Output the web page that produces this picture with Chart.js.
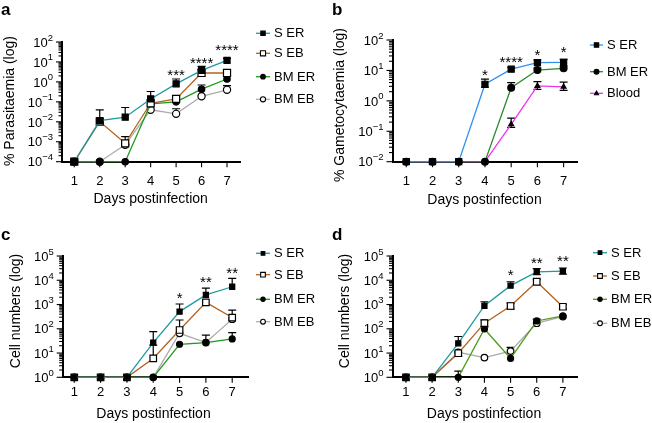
<!DOCTYPE html>
<html><head><meta charset="utf-8">
<script src="https://cdn.jsdelivr.net/npm/chart.js@4/dist/chart.umd.min.js"></script>
<style>
html,body{margin:0;padding:0;background:#fff;}
#wrap{position:relative;width:652px;height:423px;overflow:hidden;background:#fff}
canvas{position:absolute;left:0;top:0}
</style></head><body>
<div id="wrap">
<canvas id="ca" width="652" height="423"></canvas>
<canvas id="cb" width="652" height="423"></canvas>
<canvas id="cc" width="652" height="423"></canvas>
<canvas id="cd" width="652" height="423"></canvas>
</div>
<script>
// ---------- DATA ----------
const days = [1, 2, 3, 4, 5, 6, 7];

// Panel a: % Parasitaemia
const aSER     = [1e-4, 0.0115, 0.017, 0.14, 0.8, 3.8, 12];
const aSERhi   = [null, 0.04, 0.052, 0.33, 1.4, 6, 15];
const aSEB     = [1e-4, 0.0102, 0.00083, 0.085, 0.14, 2.8, 2.8];
const aSEBhi   = [null, null, 0.0018, null, 0.2, 4.2, 3.8];
const aBMER    = [1e-4, 1e-4, 1e-4, 0.08, 0.1, 0.43, 1.4];
const aBMERhi  = [null, null, null, null, null, 0.7, null];
const aBMEB    = [1e-4, 1e-4, 0.0007, 0.04, 0.025, 0.19, 0.4];
const aBMEBhi  = [null, null, null, null, 0.045, null, 0.65];
const aStarDays = [5, 6, 7];
const aStars    = ['***', '****', '****'];

// Panel b: % Gametocytaemia
const bSER     = [0.01, 0.01, 0.01, 3.5, 11, 18, 18.5];
const bSERhi   = [null, null, null, 5.2, 12.5, 22, 23];
const bSERlo   = [null, null, null, 2.8, null, null, null];
const bBMER    = [0.01, 0.01, 0.01, 0.01, 2.7, 10.3, 11.7];
const bBMERhi  = [null, null, null, null, 4, 12, 14];
const bBlood   = [0.01, 0.01, 0.01, 0.01, 0.17, 3.1, 2.9];
const bBloodhi = [null, null, null, null, 0.27, 4.3, 4.1];
const bBloodlo = [null, null, null, null, 0.135, 2.4, 2.2];
const bStarDays = [4, 5, 6, 7];
const bStars    = ['*', '****', '*', '*'];

// Panel c: Cell numbers
const cSER     = [1, 1, 1, 27, 510, 2500, 5400];
const cSERhi   = [null, null, null, 76, 1050, 4700, 12000];
const cSEB     = [1, 1, 1, 6, 89, 1230, 290];
const cSEBhi   = [null, null, null, 21, 230, null, 590];
const cBMER    = [1, 1, 1, 1, 23, 27, 38];
const cBMERhi  = [null, null, null, null, null, null, 70];
const cBMEB    = [1, 1, 1, 1, 65, 27, 250];
const cBMEBhi  = [null, null, null, null, null, 55, null];
const cStarDays = [5, 6, 7];
const cStars    = ['*', '**', '**'];

// Panel d: Cell numbers
const dSER     = [1, 1, 25, 890, 6000, 22000, 24000];
const dSERhi   = [null, null, 48, 1300, 8700, 30000, 32000];
const dSERlo   = [null, null, null, null, null, 17000, 18000];
const dSEB     = [1, 1, 9.8, 170, 870, 8700, 810];
const dSEBhi   = [null, null, null, 230, 1150, 11000, 1000];
const dSEBlo   = [null, null, 7.5, 120, 650, 6500, 650];
const dBMER    = [1, 1, 1, 98, 6, 210, 340];
const dBMERhi  = [null, null, 1.8, null, null, 250, null];
const dBMEB    = [1, 1, 10.7, 6.5, 12, 170, 320];
const dBMEBhi  = [null, null, null, null, 17, null, null];
const dStarDays = [5, 6, 7];
const dStars    = ['*', '**', '**'];

// ---------- STYLES ----------
const FONT = "'Liberation Sans', Arial, Helvetica, sans-serif";
const TEAL = '#1f9aa0', BROWN = '#b4621f', GREEN = '#1a9a1a', GRAY = '#ababab';
const BLUE = '#2f8ff5', GREEN_B = '#2a8a2a', MAGENTA = '#f032f0', GREEN_D = '#4f9a1c';

function mk(label, vals, hi, lo, color, shape, filled, r) {
  return {
    label, data: days.map((d, i) => ({x: d, y: vals[i]})),
    errHi: hi, errLo: lo,
    borderColor: color, backgroundColor: color, borderWidth: 1.3,
    pointStyle: shape, pointRadius: r, pointHoverRadius: r,
    pointBackgroundColor: filled ? '#000' : '#fff',
    pointBorderColor: '#000', pointBorderWidth: 1.2,
    tension: 0, clip: false, fill: false,
    mShape: shape, mFilled: filled, mR: r
  };
}

const panels = [
  { id: 'ca', letter: 'a', letterXY: [1, 15], area: [62, 42, 240, 161.7], xr: [0.517, 7.51], yr: [1e-4, 100],
    yTitle: '% Parasitaemia (log)', yTitleXY: [10, 101], xTitleXY: [150.7, 199], xTickY: 181,
    legend: {x0: 256, x1: 270, tx: 274, ys: [33.3, 53.3, 76.7, 99.3]},
    starDays: aStarDays, stars: aStars, starYs: [71.7, 59, 46],
    ds: [mk('S ER', aSER, aSERhi, null, TEAL, 'rect', true, 4.3),
         mk('S EB', aSEB, aSEBhi, null, BROWN, 'rect', false, 5),
         mk('BM ER', aBMER, aBMERhi, null, GREEN, 'circle', true, 3.2),
         mk('BM EB', aBMEB, aBMEBhi, null, GRAY, 'circle', false, 3.6)] },
  { id: 'cb', letter: 'b', letterXY: [332, 15], area: [392.5, 40, 577, 161.7], xr: [0.475, 7.51], yr: [0.01, 100],
    yTitle: '% Gametocytaemia (log)', yTitleXY: [340, 105], xTitleXY: [484.5, 200], xTickY: 181.5,
    legend: {x0: 590, x1: 603, tx: 607, ys: [45, 71.7, 93.3]},
    starDays: bStarDays, stars: bStars, starYs: [71.7, 58, 51.7, 48],
    ds: [mk('S ER', bSER, bSERhi, bSERlo, BLUE, 'rect', true, 4.3),
         mk('BM ER', bBMER, bBMERhi, null, GREEN_B, 'circle', true, 3.4),
         mk('Blood', bBlood, bBloodhi, bBloodlo, MAGENTA, 'triangle', true, 2.8)] },
  { id: 'cc', letter: 'c', letterXY: [1, 240], area: [62.7, 256, 248, 377.3], xr: [0.56, 7.6], yr: [1, 1e5],
    yTitle: 'Cell numbers (log)', yTitleXY: [16, 311], xTitleXY: [153.5, 414], xTickY: 392.5,
    legend: {x0: 256, x1: 270, tx: 274, ys: [253.3, 274.7, 299.3, 321.7]},
    starDays: cStarDays, stars: cStars, starYs: [294, 278, 269],
    ds: [mk('S ER', cSER, cSERhi, null, TEAL, 'rect', true, 3.6),
         mk('S EB', cSEB, cSEBhi, null, BROWN, 'rect', false, 4.6),
         mk('BM ER', cBMER, cBMERhi, null, GREEN, 'circle', true, 3),
         mk('BM EB', cBMEB, cBMEBhi, null, GRAY, 'circle', false, 3.3)] },
  { id: 'cd', letter: 'd', letterXY: [332, 240], area: [392.5, 256, 577, 377.3], xr: [0.485, 7.54], yr: [1, 1e5],
    yTitle: 'Cell numbers (log)', yTitleXY: [345, 311], xTitleXY: [484, 414], xTickY: 392.5,
    legend: {x0: 593, x1: 607, tx: 611, ys: [252.7, 276, 299.3, 323.3]},
    starDays: dStarDays, stars: dStars, starYs: [271.7, 259, 257.7],
    ds: [mk('S ER', dSER, dSERhi, dSERlo, TEAL, 'rect', true, 3.6),
         mk('S EB', dSEB, dSEBhi, dSEBlo, BROWN, 'rect', false, 4.6),
         mk('BM ER', dBMER, dBMERhi, null, GREEN_D, 'circle', true, 3),
         mk('BM EB', dBMEB, dBMEBhi, null, GRAY, 'circle', false, 3.3)] }
];

function drawMarker(ctx, shape, filled, r, x, y) {
  ctx.save();
  ctx.fillStyle = filled ? '#000' : '#fff';
  ctx.strokeStyle = '#000'; ctx.lineWidth = 1.1;
  ctx.beginPath();
  if (shape === 'rect') { const s = r * Math.SQRT1_2; ctx.rect(x - s, y - s, 2 * s, 2 * s); }
  else if (shape === 'circle') { ctx.arc(x, y, r, 0, Math.PI * 2); }
  else if (shape === 'triangle') {
    ctx.moveTo(x, y - r * 1.1); ctx.lineTo(x + r, y + r * 0.7); ctx.lineTo(x - r, y + r * 0.7); ctx.closePath();
  }
  ctx.fill(); ctx.stroke();
  ctx.restore();
}

const supMap = {'-': '\u2212'};
function expStr(e) { return String(e).split('').map(c => supMap[c] || c).join(''); }

const errorBars = {
  id: 'errorBars',
  beforeDatasetsDraw(chart) {
    const {ctx, scales: {x, y}} = chart;
    ctx.save(); ctx.strokeStyle = '#000'; ctx.lineWidth = 1.2;
    chart.data.datasets.forEach(ds => {
      ds.data.forEach((pt, i) => {
        const px = x.getPixelForValue(pt.x), py = y.getPixelForValue(pt.y);
        [ds.errHi && ds.errHi[i], ds.errLo && ds.errLo[i]].forEach(v => {
          if (v == null) return;
          const ey = y.getPixelForValue(v);
          ctx.beginPath(); ctx.moveTo(px, py); ctx.lineTo(px, ey);
          ctx.moveTo(px - 4, ey); ctx.lineTo(px + 4, ey); ctx.stroke();
        });
      });
    });
    ctx.restore();
  }
};

const decor = {
  id: 'decor',
  beforeDatasetsDraw(chart, args, opts) {
    const P = opts.panel;
    const {ctx, scales: {x, y}, chartArea: ca} = chart;
    ctx.save();
    ctx.strokeStyle = '#000'; ctx.lineWidth = 1.1; ctx.fillStyle = '#000';
    const e0 = Math.round(Math.log10(P.yr[0])), e1 = Math.round(Math.log10(P.yr[1]));
    const L = ca.left;
    for (let e = e0; e <= e1; e++) {
      const v = Math.pow(10, e), py = y.getPixelForValue(v);
      ctx.beginPath(); ctx.moveTo(L - 6, py); ctx.lineTo(L, py); ctx.stroke();
      if (e < e1) for (let m = 2; m <= 9; m++) {
        const pm = y.getPixelForValue(m * v);
        ctx.beginPath(); ctx.moveTo(L - 3.5, pm); ctx.lineTo(L, pm); ctx.stroke();
      }
      const base = '10', sup = expStr(e);
      ctx.font = '13px ' + FONT; const wb = ctx.measureText(base).width;
      ctx.font = '9.5px ' + FONT; const ws = ctx.measureText(sup).width;
      const right = L - 9;
      ctx.textAlign = 'left'; ctx.textBaseline = 'alphabetic';
      ctx.font = '13px ' + FONT; ctx.fillText(base, right - ws - wb, py + 4.7);
      ctx.font = '9.5px ' + FONT; ctx.fillText(sup, right - ws, py - 1.5);
    }
    ctx.font = '13px ' + FONT; ctx.textAlign = 'center'; ctx.textBaseline = 'middle';
    days.forEach(d => {
      const px = x.getPixelForValue(d);
      ctx.beginPath(); ctx.moveTo(px, ca.bottom); ctx.lineTo(px, ca.bottom + 5.5); ctx.stroke();
      ctx.fillText(String(d), px, P.xTickY);
    });
    ctx.restore();
  },
  afterDraw(chart, args, opts) {
    const P = opts.panel;
    const {ctx, scales: {x}} = chart;
    ctx.save(); ctx.fillStyle = '#000';
    ctx.font = 'bold 17px ' + FONT; ctx.textAlign = 'left'; ctx.textBaseline = 'alphabetic';
    ctx.fillText(P.letter, P.letterXY[0], P.letterXY[1]);
    ctx.font = '14px ' + FONT; ctx.textAlign = 'center'; ctx.textBaseline = 'middle';
    ctx.fillText('Days postinfection', P.xTitleXY[0], P.xTitleXY[1]);
    ctx.save(); ctx.translate(P.yTitleXY[0], P.yTitleXY[1]); ctx.rotate(-Math.PI / 2);
    ctx.fillText(P.yTitle, 0, 0); ctx.restore();
    ctx.font = '15px ' + FONT; ctx.textAlign = 'center'; ctx.textBaseline = 'alphabetic';
    P.starDays.forEach((d, i) => {
      ctx.fillText(P.stars[i], x.getPixelForValue(d), P.starYs[i] + 0.58 * 15);
    });
    const lg = P.legend;
    chart.data.datasets.forEach((ds, i) => {
      const ly = lg.ys[i];
      ctx.strokeStyle = ds.borderColor; ctx.lineWidth = 1.3;
      ctx.beginPath(); ctx.moveTo(lg.x0, ly); ctx.lineTo(lg.x1, ly); ctx.stroke();
      drawMarker(ctx, ds.mShape, ds.mFilled, ds.mR * 0.72, (lg.x0 + lg.x1) / 2, ly);
      ctx.fillStyle = '#000'; ctx.font = '13px ' + FONT; ctx.textAlign = 'left'; ctx.textBaseline = 'middle';
      ctx.fillText(ds.label, lg.tx, ly + 0.5);
    });
    ctx.restore();
  }
};

panels.forEach(P => {
  const [l, t, r, b] = P.area;
  new Chart(document.getElementById(P.id), {
    type: 'line',
    data: {datasets: P.ds},
    options: {
      responsive: false, animation: false, events: [],
      layout: {padding: {left: l, top: t, right: 652 - r, bottom: 423 - b}},
      plugins: {legend: {display: false}, tooltip: {enabled: false}, title: {display: false}, decor: {panel: P}},
      scales: {
        x: {type: 'linear', min: P.xr[0], max: P.xr[1],
            grid: {display: false, drawTicks: false}, ticks: {display: false},
            border: {display: true, color: '#000', width: 2}},
        y: {type: 'logarithmic', min: P.yr[0], max: P.yr[1],
            grid: {display: false, drawTicks: false}, ticks: {display: false},
            border: {display: true, color: '#000', width: 2}}
      }
    },
    plugins: [decor, errorBars]
  });
});
</script>
</body></html>
